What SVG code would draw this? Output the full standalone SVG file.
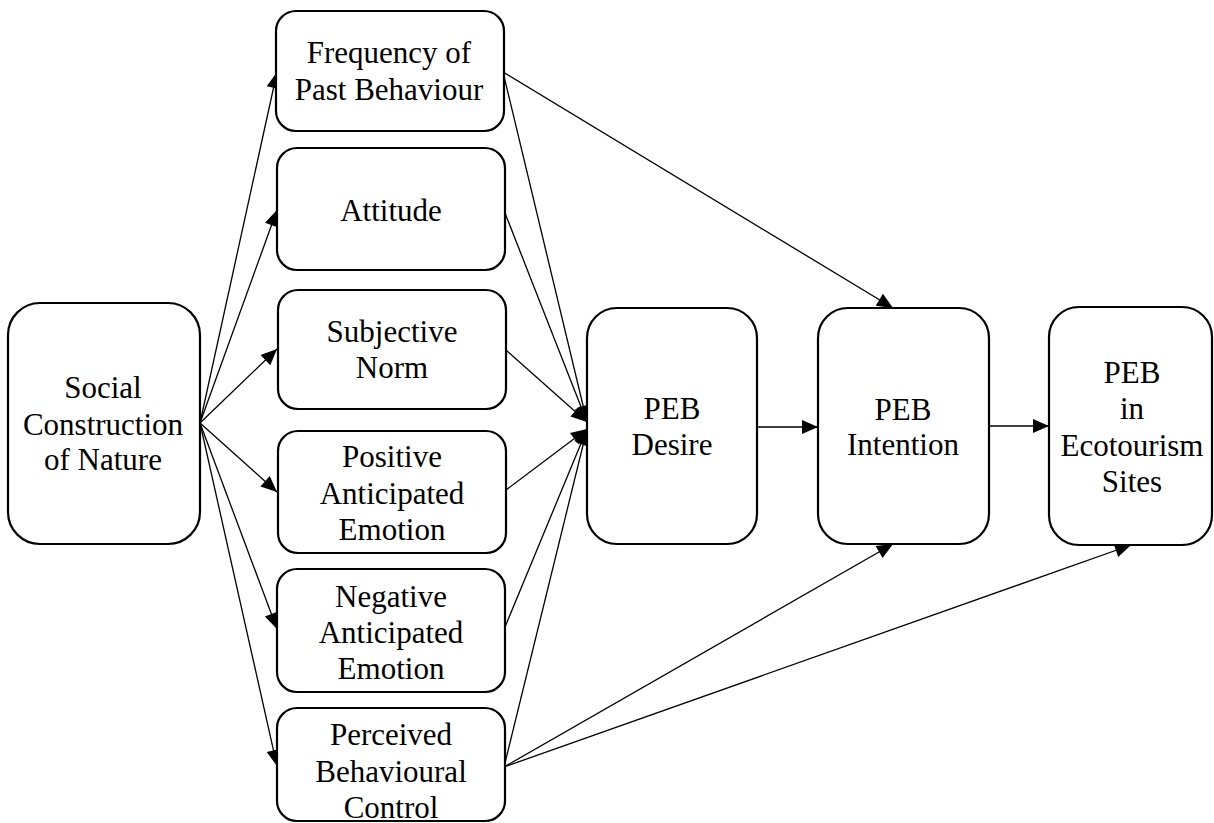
<svg xmlns="http://www.w3.org/2000/svg" width="1214" height="823" viewBox="0 0 1214 823">
  <defs>
    <style>
      .box { fill: #ffffff; stroke: #000000; stroke-width: 2.2; }
      .lbl { font-size: 31px; fill: #000000; text-anchor: middle; }
      .edge { fill: none; stroke: #000000; stroke-width: 1.3; marker-end: url(#arrow); }
    </style>
    <marker id="arrow" markerUnits="userSpaceOnUse" markerWidth="16" markerHeight="14" refX="16" refY="7" orient="auto" overflow="visible">
      <path d="M0,0 L16,7 L0,14 Z" fill="#000000"/>
    </marker>
  </defs>
  <rect width="1214" height="823" fill="#ffffff"/>

  <!-- connectors -->
  <g id="connectors">
    <!-- Social Construction of Nature to the six predictors -->
    <line class="edge" x1="200" y1="423" x2="277" y2="72"/>
    <line class="edge" x1="200" y1="423" x2="277" y2="210"/>
    <line class="edge" x1="200" y1="423" x2="277" y2="349"/>
    <line class="edge" x1="200" y1="423" x2="277" y2="492"/>
    <line class="edge" x1="200" y1="423" x2="277" y2="629"/>
    <line class="edge" x1="200" y1="423" x2="277" y2="766"/>
    <!-- predictors to PEB Desire -->
    <line class="edge" x1="503" y1="72" x2="587" y2="422"/>
    <line class="edge" x1="505" y1="213" x2="587" y2="422"/>
    <line class="edge" x1="506" y1="350" x2="587" y2="422"/>
    <line class="edge" x1="506" y1="490" x2="587" y2="429"/>
    <line class="edge" x1="505" y1="627" x2="587" y2="429"/>
    <line class="edge" x1="504" y1="767" x2="587" y2="429"/>
    <!-- direct paths -->
    <line class="edge" x1="503" y1="72" x2="893" y2="308"/>
    <line class="edge" x1="504" y1="767" x2="893" y2="544"/>
    <line class="edge" x1="504" y1="767" x2="1131" y2="545"/>
    <!-- main chain -->
    <line class="edge" x1="757" y1="427" x2="818" y2="427"/>
    <line class="edge" x1="989" y1="426" x2="1049" y2="426"/>
  </g>

  <g font-family="Liberation Serif, Tinos, Times New Roman, Times, Noto Serif, DejaVu Serif, serif">
  <g id="social-construction">
    <rect class="box" x="8" y="303" width="192" height="241" rx="32" ry="32"/>
    <text class="lbl" x="103" y="398">Social</text>
    <text class="lbl" x="103" y="435">Construction</text>
    <text class="lbl" x="103" y="470">of Nature</text>
  </g>

  <g id="past-behaviour">
    <rect class="box" x="276" y="11" width="228" height="120" rx="20" ry="20"/>
    <text class="lbl" x="389" y="63">Frequency of</text>
    <text class="lbl" x="389" y="100">Past Behaviour</text>
  </g>

  <g id="attitude">
    <rect class="box" x="277" y="148" width="228" height="122" rx="20" ry="20"/>
    <text class="lbl" x="391" y="221">Attitude</text>
  </g>

  <g id="subjective-norm">
    <rect class="box" x="278" y="290" width="228" height="119" rx="20" ry="20"/>
    <text class="lbl" x="392" y="342">Subjective</text>
    <text class="lbl" x="392" y="378">Norm</text>
  </g>

  <g id="positive-emotion">
    <rect class="box" x="278" y="431" width="228" height="122" rx="20" ry="20"/>
    <text class="lbl" x="392" y="467">Positive</text>
    <text class="lbl" x="392" y="504">Anticipated</text>
    <text class="lbl" x="392" y="540">Emotion</text>
  </g>

  <g id="negative-emotion">
    <rect class="box" x="277" y="569" width="228" height="123" rx="20" ry="20"/>
    <text class="lbl" x="391" y="607">Negative</text>
    <text class="lbl" x="391" y="643">Anticipated</text>
    <text class="lbl" x="391" y="679">Emotion</text>
  </g>

  <g id="behavioural-control">
    <rect class="box" x="277" y="708" width="228" height="113" rx="20" ry="20"/>
    <text class="lbl" x="391" y="745">Perceived</text>
    <text class="lbl" x="391" y="782">Behavioural</text>
    <text class="lbl" x="391" y="818">Control</text>
  </g>

  <g id="peb-desire">
    <rect class="box" x="587" y="308" width="170" height="236" rx="30" ry="30"/>
    <text class="lbl" x="672" y="419">PEB</text>
    <text class="lbl" x="672" y="455">Desire</text>
  </g>

  <g id="peb-intention">
    <rect class="box" x="818" y="308" width="171" height="236" rx="30" ry="30"/>
    <text class="lbl" x="903" y="420">PEB</text>
    <text class="lbl" x="903" y="455">Intention</text>
  </g>

  <g id="peb-ecotourism">
    <rect class="box" x="1049" y="307" width="163" height="238" rx="30" ry="30"/>
    <text class="lbl" x="1132" y="383">PEB</text>
    <text class="lbl" x="1132" y="419">in</text>
    <text class="lbl" x="1132" y="456">Ecotourism</text>
    <text class="lbl" x="1132" y="492">Sites</text>
  </g>
  </g>
</svg>
